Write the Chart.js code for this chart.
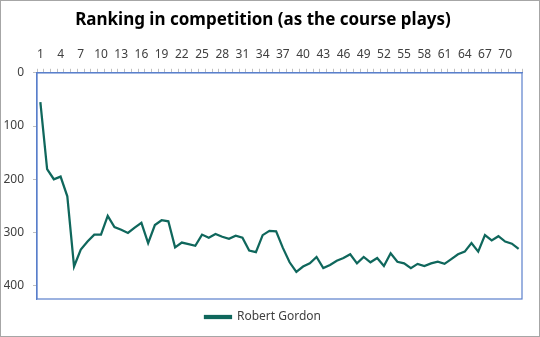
<!DOCTYPE html>
<html>
<head>
<meta charset="utf-8">
<script src="https://cdn.jsdelivr.net/npm/chart.js@4/dist/chart.umd.min.js"></script>
<style>
  html, body { margin: 0; padding: 0; background: #fff; }
  #wrap { width: 540px; height: 337px; position: relative; }
</style>
</head>
<body>
<div id="wrap"><canvas id="rankChart" width="540" height="337"></canvas></div>
<script>
// Rounds 1..72 along the top axis
const rounds = [];
for (let i = 1; i <= 72; i++) rounds.push(String(i));

// Ranking (lower is better)
const robertGordon = [
    55, 181, 200, 195, 232, 364, 332, 317, 304, 304,
    269, 290, 295, 301, 291, 282, 320, 286, 277, 279,
    328, 319, 322, 325, 304, 310, 303, 308, 312, 306,
    310, 334, 337, 305, 297, 298, 329, 356, 374, 364,
    358, 346, 367, 361, 353, 348, 341, 358, 346, 356,
    348, 363, 339, 355, 358, 367, 359, 363, 358, 355,
    359, 350, 341, 336, 320, 336, 305, 315, 307, 317,
    321, 331
];

const yTicks = [0, 100, 200, 300, 400];

const lineColor = '#0f675c';
const frameColor = '#5a7fcb';
const textColor = '#404040';

// White page with grey outline, and blue frame round the plot area
const framePlugin = {
    id: 'frame',
    beforeDraw(chart) {
        const ctx = chart.ctx;
        ctx.save();
        ctx.fillStyle = '#fff';
        ctx.fillRect(0, 0, chart.width, chart.height);
        ctx.strokeStyle = '#a6a6a6';
        ctx.lineWidth = 1;
        ctx.strokeRect(0.5, 0.5, chart.width - 1, chart.height - 1);
        ctx.restore();
    },
    afterDraw(chart) {
        const a = chart.chartArea;
        const ctx = chart.ctx;
        ctx.save();
        ctx.strokeStyle = frameColor;
        ctx.lineWidth = 1.2;
        ctx.strokeRect(a.left, a.top, a.right - a.left, a.bottom - a.top);
        ctx.restore();
    }
};

Chart.defaults.font.family = '"Noto Sans", "Open Sans", sans-serif';
Chart.defaults.color = textColor;

new Chart(document.getElementById('rankChart').getContext('2d'), {
    type: 'line',
    data: {
        labels: rounds,
        datasets: [{
            label: 'Robert Gordon',
            data: robertGordon,
            borderColor: lineColor,
            backgroundColor: lineColor,
            borderWidth: 2.25,
            pointRadius: 0,
            tension: 0
        }]
    },
    options: {
        responsive: false,
        animation: false,
        layout: { padding: { left: 4, right: 18, top: 0, bottom: 4 } },
        plugins: {
            title: {
                display: true,
                text: 'Ranking in competition (as the course plays)',
                color: '#000',
                font: { size: 17, weight: 'bold' },
                padding: { top: 10, bottom: 10 }
            },
            legend: {
                position: 'bottom',
                labels: {
                    boxWidth: 26,
                    boxHeight: 2,
                    color: textColor,
                    font: { size: 12 },
                    padding: 12
                }
            },
            tooltip: { enabled: false }
        },
        scales: {
            x: {
                type: 'category',
                position: 'top',
                offset: true,
                border: { color: frameColor, width: 1.2 },
                grid: {
                    drawOnChartArea: false,
                    tickLength: 4,
                    color: '#bfbfbf',
                    offset: true
                },
                ticks: {
                    autoSkip: false,
                    maxRotation: 0,
                    padding: 7,
                    font: { size: 12 },
                    callback: function(value, index) {
                        return index % 3 === 0 ? this.getLabelForValue(value) : '';
                    }
                }
            },
            y: {
                reverse: true,
                min: 0,
                max: 425,
                afterBuildTicks: function(axis) {
                    axis.ticks = yTicks.map(v => ({ value: v }));
                },
                afterFit: function(axis) {
                    axis.width = 33;
                },
                border: { color: frameColor, width: 1.2 },
                grid: {
                    drawOnChartArea: false,
                    tickLength: 4,
                    color: '#bfbfbf'
                },
                ticks: {
                    padding: 9,
                    font: { size: 12 }
                }
            }
        }
    },
    plugins: [framePlugin]
});
</script>
</body>
</html>
